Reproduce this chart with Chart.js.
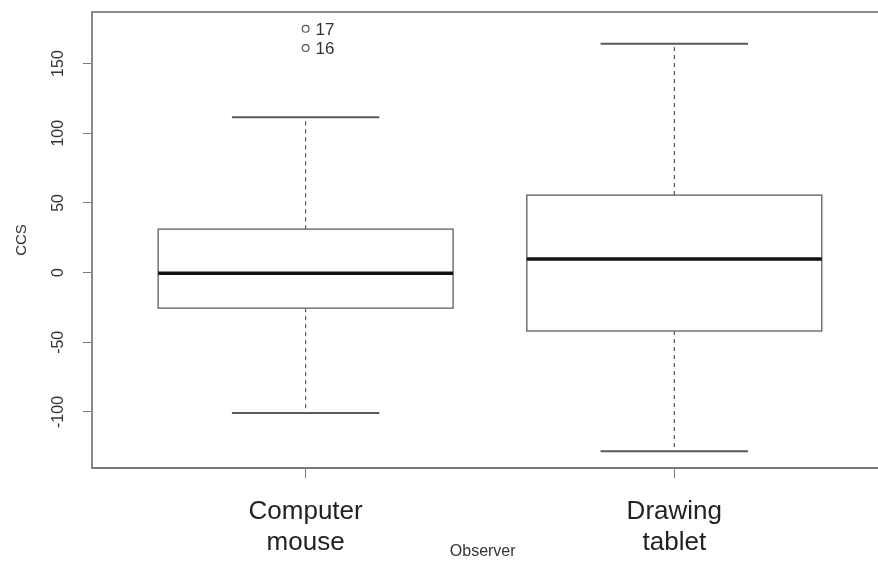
<!DOCTYPE html>
<html>
<head>
<meta charset="utf-8">
<script src="https://cdn.jsdelivr.net/npm/chart.js@4"></script>
<style>
html,body{margin:0;padding:0;background:#fff;}
canvas{display:block;}
</style>
</head>
<body>
<canvas id="c" width="878" height="562"></canvas>
<script>
// ---- data ----
const categories = [['Computer', 'mouse'], ['Drawing', 'tablet']];
const groupPositions = [1, 2];
const lowerWhisker = [-100.7, -128.1];
const q1 = [-25.5, -41.9];
const median = [-0.4, 9.7];
const q3 = [31.2, 55.6];
const upperWhisker = [111.5, 164.3];
const outlierGroup = [1, 1];
const outlierValues = [174.9, 161.2];
const outlierLabels = ['17', '16'];
const yTicks = [-100, -50, 0, 50, 100, 150];

const BOX_HALF = 0.4;
const CAP_HALF = 0.2;

const boxPlugin = {
  id: 'boxPlugin',
  afterDatasetsDraw(chart) {
    const ctx = chart.ctx;
    const xs = chart.scales.x, ys = chart.scales.y;
    const area = chart.chartArea;
    ctx.save();
    // frame lines running off the right edge, as in the reference
    ctx.strokeStyle = '#8a8a8a';
    ctx.lineWidth = 2;
    ctx.beginPath();
    ctx.moveTo(area.left, area.top);
    ctx.lineTo(chart.width, area.top);
    ctx.stroke();
    ctx.strokeStyle = '#777';
    ctx.beginPath();
    ctx.moveTo(area.right, area.bottom);
    ctx.lineTo(chart.width, area.bottom);
    ctx.stroke();

    groupPositions.forEach((g, i) => {
      const xc = xs.getPixelForValue(g);
      const xl = xs.getPixelForValue(g - BOX_HALF);
      const xr = xs.getPixelForValue(g + BOX_HALF);
      const cl = xs.getPixelForValue(g - CAP_HALF);
      const cr = xs.getPixelForValue(g + CAP_HALF);
      const yQ1 = ys.getPixelForValue(q1[i]);
      const yQ3 = ys.getPixelForValue(q3[i]);
      const yMed = ys.getPixelForValue(median[i]);
      const yLo = ys.getPixelForValue(lowerWhisker[i]);
      const yHi = ys.getPixelForValue(upperWhisker[i]);

      // whiskers (dashed)
      ctx.strokeStyle = '#555';
      ctx.lineWidth = 1.2;
      ctx.setLineDash([4, 4]);
      ctx.beginPath();
      ctx.moveTo(xc, yQ3); ctx.lineTo(xc, yHi);
      ctx.moveTo(xc, yQ1); ctx.lineTo(xc, yLo);
      ctx.stroke();
      ctx.setLineDash([]);

      // caps
      ctx.strokeStyle = '#5a5a5a';
      ctx.lineWidth = 2;
      ctx.beginPath();
      ctx.moveTo(cl, yHi); ctx.lineTo(cr, yHi);
      ctx.moveTo(cl, yLo); ctx.lineTo(cr, yLo);
      ctx.stroke();

      // box
      ctx.strokeStyle = '#6a6a6a';
      ctx.lineWidth = 1.4;
      ctx.strokeRect(xl, yQ3, xr - xl, yQ1 - yQ3);

      // median
      ctx.strokeStyle = '#111';
      ctx.lineWidth = 3.5;
      ctx.beginPath();
      ctx.moveTo(xl, yMed); ctx.lineTo(xr, yMed);
      ctx.stroke();
    });

    // outlier labels
    ctx.fillStyle = '#333';
    ctx.font = '17px "Liberation Sans", Arial, sans-serif';
    ctx.textAlign = 'left';
    ctx.textBaseline = 'middle';
    outlierValues.forEach((v, i) => {
      const x = xs.getPixelForValue(outlierGroup[i]);
      const y = ys.getPixelForValue(v);
      ctx.fillText(outlierLabels[i], x + 10, y + 1);
    });
    ctx.restore();
  }
};

function zeroPad(s) {
  s.paddingTop = 0; s.paddingBottom = 0; s.paddingLeft = 0; s.paddingRight = 0;
}

new Chart(document.getElementById('c'), {
  type: 'scatter',
  data: {
    datasets: [{
      data: outlierValues.map((v, i) => ({x: outlierGroup[i], y: v})),
      pointRadius: 3.4,
      pointBorderWidth: 1.2,
      borderColor: '#555',
      backgroundColor: 'rgba(0,0,0,0)',
      pointHoverRadius: 3.4
    }]
  },
  options: {
    responsive: false,
    devicePixelRatio: 1,
    animation: false,
    layout: {padding: {top: 12, right: 0, bottom: 0, left: 0}},
    plugins: {legend: {display: false}, tooltip: {enabled: false}},
    scales: {
      x: {
        type: 'linear',
        min: 0.4206,
        max: 2.540,
        afterBuildTicks: (s) => { s.ticks = groupPositions.map(v => ({value: v})); },
        afterFit: (s) => { s.height = 94; zeroPad(s); },
        grid: {drawOnChartArea: false, tickLength: 10, color: '#777', tickWidth: 1},
        border: {display: true, color: '#777', width: 2},
        ticks: {
          padding: 18,
          color: '#222',
          font: {family: '"Liberation Sans", Arial, sans-serif', size: 26, lineHeight: 1.2},
          callback: (v) => { const i = groupPositions.indexOf(v); return i >= 0 ? categories[i] : ''; }
        },
        title: {
          display: true,
          text: 'Observer',
          color: '#333',
          font: {family: '"Liberation Sans Narrow", "Liberation Sans", Arial, sans-serif', size: 16, lineHeight: 1.2},
          padding: {top: 0, bottom: 1}
        }
      },
      y: {
        type: 'linear',
        min: -140.2,
        max: 187.0,
        afterBuildTicks: (s) => { s.ticks = yTicks.map(v => ({value: v})); },
        afterFit: (s) => { s.width = 92; zeroPad(s); },
        grid: {drawOnChartArea: false, tickLength: 9, color: '#777', tickWidth: 1},
        border: {display: true, color: '#888', width: 2},
        ticks: {
          minRotation: 90,
          maxRotation: 90,
          crossAlign: 'center',
          padding: 8,
          color: '#333',
          font: {family: '"Liberation Sans", Arial, sans-serif', size: 16}
        },
        title: {
          display: true,
          text: 'CCS',
          color: '#333',
          font: {family: '"Liberation Sans", Arial, sans-serif', size: 15, lineHeight: 1.2},
          padding: {top: 13, bottom: 0}
        }
      }
    }
  },
  plugins: [boxPlugin]
});
</script>
</body>
</html>
